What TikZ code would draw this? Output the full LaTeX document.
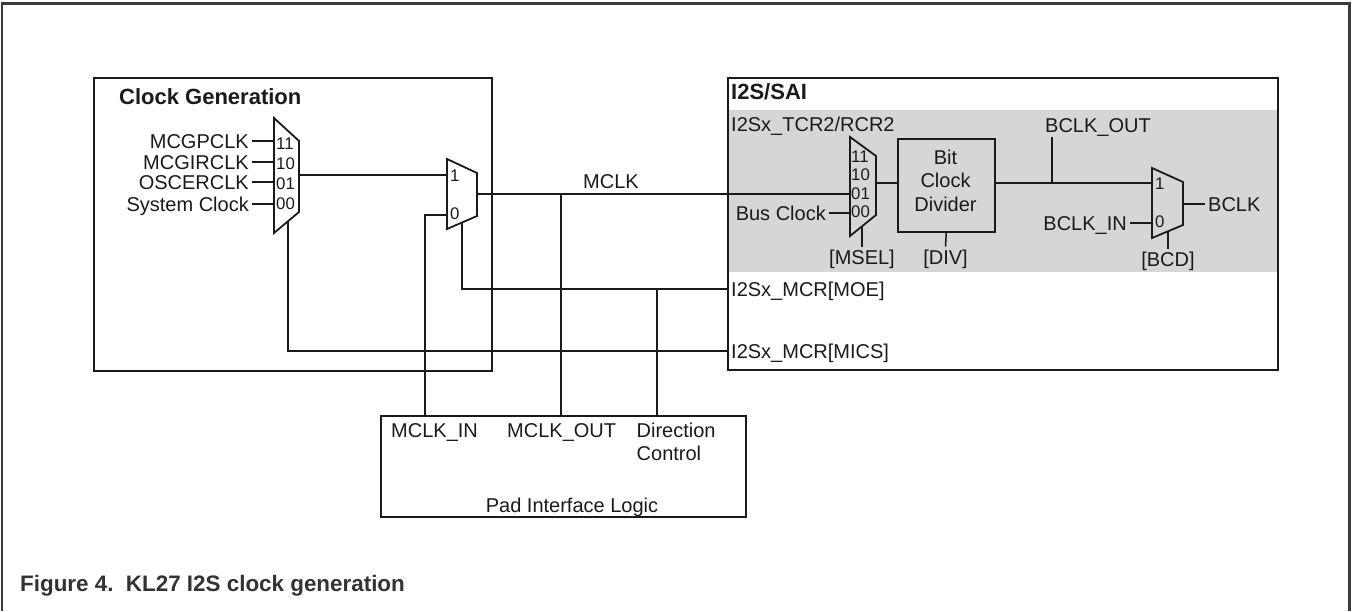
\documentclass[tikz,border=0pt]{standalone}
\usepackage{fontspec}
\setmainfont{Liberation Sans}
\definecolor{linec}{HTML}{1A1A1A}
\definecolor{txtc}{HTML}{1A1A1A}
\definecolor{grayc}{HTML}{D6D6D6}
\definecolor{framec}{HTML}{3A3A3A}
\definecolor{capc}{HTML}{333333}
\begin{document}
\begin{tikzpicture}[x=1pt,y=-1pt,
  ln/.style={line width=1.5pt, draw=linec},
  muxshape/.style={line width=1.8pt, draw=linec, line join=miter},
  boxst/.style={draw=linec, line width=1.5pt, inner sep=0pt, anchor=north west},
  lbl/.style={inner sep=0pt, font=\fontsize{20}{23.5}\selectfont, text height=14.3pt, text depth=0pt, text=txtc},
  mlbl/.style={inner sep=0pt, font=\fontsize{16.8}{19}\selectfont, text height=12pt, text depth=0pt, text=txtc, anchor=west},
  ttl/.style={inner sep=0pt, font=\fontsize{22}{26}\selectfont\bfseries, text height=15.8pt, text depth=0pt, text=txtc, anchor=west},
  capst/.style={inner sep=0pt, font=\fontsize{22.4}{26}\selectfont\bfseries, text height=16pt, text depth=0pt, text=capc, anchor=west}
]
\useasboundingbox (0,0) rectangle (1352,611);
% page frame
\draw[framec, line width=2.4pt] (2,611) -- (2,3.5) -- (1349.5,3.5) -- (1349.5,611);

% ---------- Clock Generation ----------
\node[boxst, minimum width=398pt, minimum height=293pt] (cg) at (93,77) {};
\node[ttl] (cgt) at (119,97) {Clock Generation};

% mux 1
\draw[muxshape] (274,118) -- (299,141) -- (299,212) -- (274,233) -- cycle;
\coordinate (m1a) at (274,141);
\coordinate (m1b) at (274,162);
\coordinate (m1c) at (274,182);
\coordinate (m1d) at (274,204);
\coordinate (m1o) at (299,175);
\coordinate (m1s) at (288,221.2);
\node[mlbl] (m1l11) at (276,143) {11};
\node[mlbl] (m1l10) at (276,163) {10};
\node[mlbl] (m1l01) at (276,183) {01};
\node[mlbl] (m1l00) at (276,203) {00};

\node[lbl, anchor=east] (mcgp) at (249,141) {MCGPCLK};
\node[lbl, anchor=east] (mcgir) at (249,162) {MCGIRCLK};
\node[lbl, anchor=east] (osc) at (249,182) {OSCERCLK};
\node[lbl, anchor=east] (sys) at (249,204) {System Clock};
\draw[ln] ([xshift=3pt]mcgp.east) -- (m1a);
\draw[ln] ([xshift=3pt]mcgir.east) -- (m1b);
\draw[ln] ([xshift=3pt]osc.east) -- (m1c);
\draw[ln] ([xshift=3pt]sys.east) -- (m1d);

% mux 2
\draw[muxshape] (447,159) -- (477,173) -- (477,216) -- (447,229) -- cycle;
\coordinate (m2a) at (447,175);
\coordinate (m2b) at (447,215);
\coordinate (m2o) at (477,194);
\coordinate (m2s) at (462,222);
\node[mlbl] (m2l1) at (450,175) {1};
\node[mlbl] (m2l0) at (450,213) {0};
\draw[ln] (m1o) -- (m2a);

% ---------- I2S/SAI ----------
\fill[grayc] (727,110) rectangle (1277,272);
\node[boxst, minimum width=550pt, minimum height=292pt] (i2s) at (727,77) {};
\node[ttl] (i2st) at (731,92) {I2S/SAI};
\node[lbl, anchor=west] (tcr) at (731,124) {I2Sx\_TCR2/RCR2};

% mux 3 (MSEL)
\draw[muxshape] (850,137) -- (876,156) -- (876,215) -- (850,236) -- cycle;
\coordinate (m3b) at (850,194);
\coordinate (m3c) at (850,213);
\coordinate (m3o) at (876,183);
\coordinate (m3s) at (862,226.3);
\node[mlbl] (m3l11) at (851,156) {11};
\node[mlbl] (m3l10) at (851,174) {10};
\node[mlbl] (m3l01) at (851,193) {01};
\node[mlbl] (m3l00) at (851,211) {00};
\node[lbl, anchor=east] (bus) at (826,213) {Bus Clock};
\draw[ln] ([xshift=3pt]bus.east) -- (m3c);
\node[lbl] (msel) at (862,257) {[MSEL]};
\draw[ln] (m3s) -- ([yshift=3pt]msel.north);

% bit clock divider
\node[boxst, minimum width=97pt, minimum height=93pt] (bcd) at (897,138) {};
\node[inner sep=0pt, align=center, font=\fontsize{20}{23.5}\selectfont, text=txtc] (bcdt) at (945.5,180.5) {Bit\\Clock\\Divider};
\draw[ln] (m3o) -- (bcd.west |- m3o);
\node[lbl] (div) at (945.5,257) {[DIV]};
\draw[ln] (bcd.south) -- ([yshift=3pt]div.north);

% mux 4 (BCD)
\draw[muxshape] (1152,168) -- (1183,182) -- (1183,225) -- (1152,238) -- cycle;
\coordinate (m4a) at (1152,183);
\coordinate (m4b) at (1152,223);
\coordinate (m4o) at (1183,204);
\coordinate (m4s) at (1168,231.3);
\node[mlbl] (m4l1) at (1155,183) {1};
\node[mlbl] (m4l0) at (1155,221) {0};
\draw[ln] (bcd.east |- m4a) -- (m4a);
\coordinate (jb) at (1052,183);
\coordinate (bo) at (1052,137);
\draw[ln] (jb) -- (bo);
\node[lbl, anchor=west] (bclkout) at (1045,125) {BCLK\_OUT};
\node[lbl, anchor=east] (bclkin) at (1127,223) {BCLK\_IN};
\draw[ln] ([xshift=3pt]bclkin.east) -- (m4b);
\node[lbl, anchor=west] (bclk) at (1208,204) {BCLK};
\draw[ln] (m4o) -- ([xshift=-3pt]bclk.west);
\node[lbl] (bcdl) at (1168,259) {[BCD]};
\draw[ln] (m4s) -- ([yshift=3pt]bcdl.north);

\node[lbl, anchor=west] (moe) at (731,289) {I2Sx\_MCR[MOE]};
\node[lbl, anchor=west] (mics) at (731,351) {I2Sx\_MCR[MICS]};

% ---------- MCLK path ----------
\draw[ln] (m2o) -- (m3b);
\node[lbl] (mclk) at (611,181) {MCLK};

% ---------- Pad Interface Logic ----------
\node[boxst, minimum width=365pt, minimum height=101pt] (pad) at (380,415) {};
\node[lbl, anchor=west] (pin) at (391,430) {MCLK\_IN};
\node[lbl, anchor=west] (pout) at (507,430) {MCLK\_OUT};
\node[inner sep=0pt, align=left, anchor=north west, font=\fontsize{20}{23}\selectfont, text=txtc] (dirc) at (636.5,423) {Direction\\Control};
\node[lbl] (padt) at (572,505) {Pad Interface Logic};

\coordinate (p1) at (425,415);
\coordinate (p2) at (561,415);
\coordinate (p3) at (657,415);
\coordinate (jo) at (561,194);
\coordinate (jd) at (657,289);

\draw[ln] (m2b) -| (p1);
\draw[ln] (jo) -- (p2);
\draw[ln] (m2s) |- (i2s.west |- moe.west);
\draw[ln] (jd) -- (p3);
\draw[ln] (m1s) |- (i2s.west |- mics.west);

% caption
\node[capst] (cap) at (20,583) {Figure 4.\ \ KL27 I2S clock generation};
\end{tikzpicture}
\end{document}
